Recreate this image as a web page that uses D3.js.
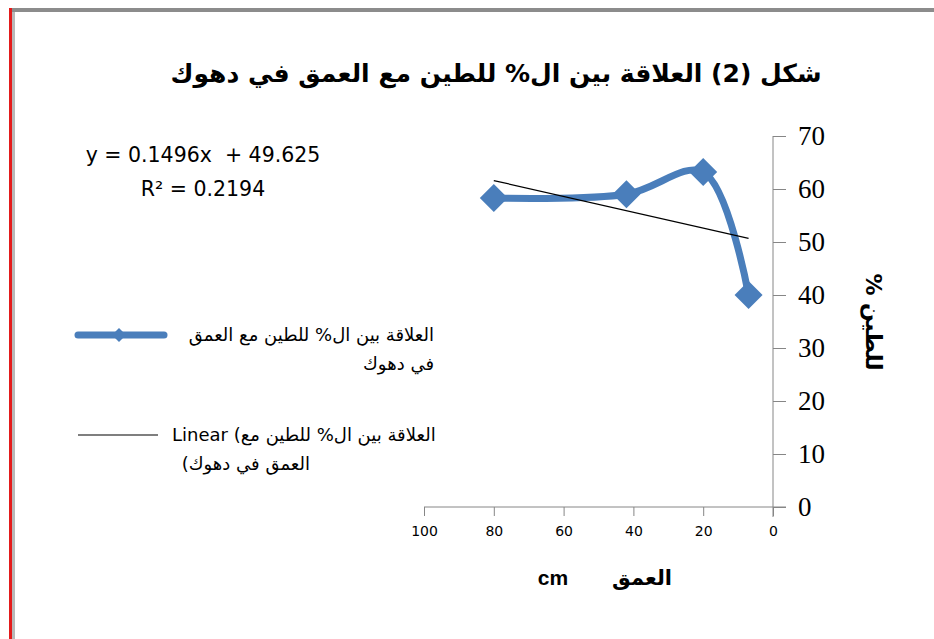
<!DOCTYPE html>
<html>
<head>
<meta charset="utf-8">
<script src="https://cdn.jsdelivr.net/npm/d3@7"></script>
<style>
  body { margin: 0; background: #fff; }
  svg text { font-family: "DejaVu Sans", sans-serif; }
</style>
</head>
<body>
<div id="chart"></div>
<script>
// depth (cm) and clay %
var depth = [80, 42, 20, 7]
var clay = [58.3, 59, 63.2, 40]
var xTicks = [100, 80, 60, 40, 20, 0]
var yTicks = [0, 10, 20, 30, 40, 50, 60, 70]
var slope = 0.1496, intercept = 49.625, r2 = 0.2194

var title = "شكل (2) العلاقة بين ال% للطين مع العمق في دهوك"
var seriesName = ["العلاقة بين ال% للطين مع العمق", "في دهوك"]
var trendName = ["Linear (العلاقة بين ال% للطين مع", "العمق في دهوك)"]

var width = 934, height = 639
var blue = "#4a7ebb"

var svg = d3.select("#chart").append("svg")
    .attr("width", width)
    .attr("height", height)

// frame borders
svg.append("rect").attr("x", 12).attr("y", 8).attr("width", width).attr("height", 4).attr("fill", "#8c8c8c")
svg.append("rect").attr("x", 12).attr("y", 12).attr("width", 3).attr("height", height).attr("fill", "#b8b8b8")
svg.append("rect").attr("x", 9).attr("y", 8).attr("width", 3).attr("height", height).attr("fill", "#e31b1b")

var x = d3.scaleLinear().domain([100, 0]).range([424, 773])
var y = d3.scaleLinear().domain([0, 70]).range([507, 136])

// x axis
var xAxis = svg.append("g")
    .attr("transform", "translate(0," + y(0) + ")")
    .call(d3.axisBottom(x).tickValues(xTicks).tickSize(9).tickSizeOuter(0).tickPadding(10))
xAxis.select(".domain").attr("d", "M" + x(100) + ",0H" + (x(0) + 13))
xAxis.selectAll("line").attr("stroke", "#868686")
xAxis.select(".domain").attr("stroke", "#868686")
xAxis.selectAll("text")
    .style("font-size", "14px")
    .style("font-family", "Tahoma, 'DejaVu Sans', sans-serif")
    .attr("fill", "#000")

// y axis (right side)
var yAxis = svg.append("g")
    .attr("transform", "translate(" + x(0) + ",0)")
    .call(d3.axisRight(y).tickValues(yTicks).tickSize(13).tickSizeOuter(0).tickPadding(12))
yAxis.select(".domain").attr("d", "M0," + y(70) + "V" + (y(0) + 10))
yAxis.selectAll("line").attr("stroke", "#868686")
yAxis.select(".domain").attr("stroke", "#868686")
yAxis.selectAll("text")
    .style("font-size", "27px")
    .style("font-family", "'Liberation Serif', serif")
    .attr("fill", "#000")

var pts = depth.map((d, i) => [d, clay[i]])

// data line, smoothed
var line = d3.line()
    .x(d => x(d[0]))
    .y(d => y(d[1]))
    .curve(d3.curveCatmullRom.alpha(0.5))

svg.append("path")
    .datum(pts)
    .attr("d", line)
    .attr("fill", "none")
    .attr("stroke", blue)
    .attr("stroke-width", 7)
    .attr("stroke-linejoin", "round")

svg.selectAll(".pt")
    .data(pts)
    .enter().append("path")
    .attr("class", "pt")
    .attr("transform", d => "translate(" + x(d[0]) + "," + y(d[1]) + ")")
    .attr("d", "M0,-14L14,0L0,14L-14,0Z")
    .attr("fill", blue)

// linear trendline
var xr = d3.extent(depth)
svg.append("line")
    .attr("x1", x(xr[1])).attr("y1", y(slope * xr[1] + intercept))
    .attr("x2", x(xr[0])).attr("y2", y(slope * xr[0] + intercept))
    .attr("stroke", "#000")
    .attr("stroke-width", 1.2)

// title
svg.append("text")
    .attr("x", 496).attr("y", 82)
    .attr("text-anchor", "middle")
    .attr("direction", "rtl")
    .style("font-size", "25px")
    .style("font-weight", "bold")
    .text(title)

// equation
var eq = svg.append("g").style("font-family", "'Open Sans', sans-serif").style("font-size", "20.5px")
eq.append("text").attr("x", 203).attr("y", 162).attr("text-anchor", "middle")
    .attr("xml:space", "preserve")
    .text("y = " + slope + "x  + " + intercept)
eq.append("text").attr("x", 203).attr("y", 196).attr("text-anchor", "middle")
    .text("R² = " + r2)

// legend
var lg = svg.append("g").style("font-size", "18px")
lg.append("line").attr("x1", 78).attr("x2", 164).attr("y1", 335).attr("y2", 335)
    .attr("stroke", blue).attr("stroke-width", 7).attr("stroke-linecap", "round")
lg.append("path").attr("transform", "translate(119,335)")
    .attr("d", "M0,-7L7,0L0,7L-7,0Z").attr("fill", blue)
lg.append("text").attr("x", 434).attr("y", 341).attr("text-anchor", "start")
    .attr("direction", "rtl").text(seriesName[0])
lg.append("text").attr("x", 434).attr("y", 370).attr("text-anchor", "start")
    .attr("direction", "rtl").text(seriesName[1])

lg.append("line").attr("x1", 78).attr("x2", 158).attr("y1", 435).attr("y2", 435)
    .attr("stroke", "#000").attr("stroke-width", 1.2)
lg.append("text").attr("x", 172).attr("y", 441).text(trendName[0])
lg.append("text").attr("x", 310).attr("y", 470).attr("text-anchor", "start")
    .attr("direction", "rtl").text(trendName[1])

// axis titles
svg.append("text")
    .attr("transform", "translate(866,322) rotate(90)")
    .attr("text-anchor", "middle")
    .attr("direction", "rtl")
    .style("font-size", "22px")
    .style("font-weight", "bold")
    .text("للطين %")

svg.append("text").attr("x", 672).attr("y", 585).attr("text-anchor", "end")
    .style("font-size", "21px").style("font-weight", "bold").text("العمق")
svg.append("text").attr("x", 553).attr("y", 585).attr("text-anchor", "middle")
    .style("font-size", "21px").style("font-weight", "bold")
    .style("font-family", "'Liberation Sans', sans-serif").text("cm")
</script>
</body>
</html>
